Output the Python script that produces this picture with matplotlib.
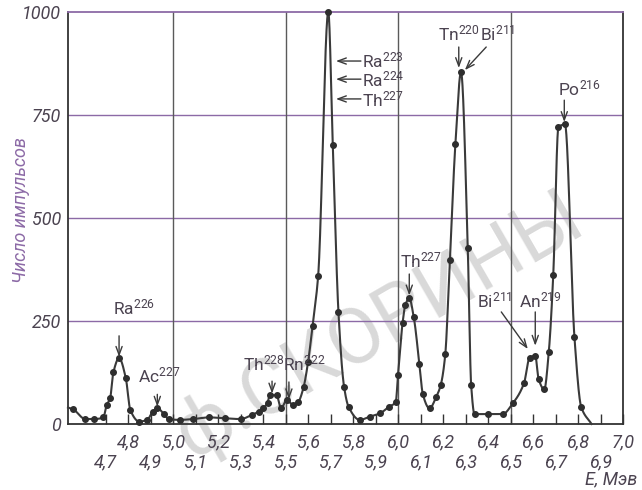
import numpy as np
import matplotlib
matplotlib.use("Agg")
import matplotlib.pyplot as plt

# ---------------- data ----------------
energy = [4.555, 4.61, 4.65, 4.69, 4.705, 4.72, 4.735, 4.76, 4.79, 4.81, 4.85, 4.885,
          4.91, 4.93, 4.96, 4.98, 5.03, 5.09, 5.16, 5.23, 5.30, 5.35, 5.38, 5.40, 5.42,
          5.43, 5.46, 5.48, 5.505, 5.535, 5.557, 5.58, 5.60, 5.62, 5.645, 5.69, 5.71,
          5.735, 5.76, 5.78, 5.83, 5.875, 5.92, 5.96, 5.99, 6.00, 6.02, 6.033, 6.05,
          6.07, 6.095, 6.11, 6.14, 6.17, 6.19, 6.21, 6.23, 6.255, 6.28, 6.31, 6.325,
          6.34, 6.40, 6.465, 6.51, 6.56, 6.585, 6.61, 6.625, 6.65, 6.67, 6.69, 6.713,
          6.742, 6.784, 6.814]
counts = [36, 12, 12, 16, 46, 62, 126, 160, 111, 34, 6, 10,
          30, 38, 24, 12, 10, 12, 16, 14, 12, 22, 30, 38, 52,
          70, 70, 38, 58, 46, 54, 89, 150, 238, 360, 1000, 678,
          273, 91, 42, 10, 18, 26, 42, 54, 120, 244, 290, 305,
          259, 145, 73, 38, 66, 95, 169, 397, 680, 854, 427, 95,
          24, 24, 24, 50, 99, 161, 165, 109, 84, 174, 362, 721,
          727, 212, 42]
# ends of the drawn curve (no measured dot there)
curve_head_x, curve_head_y = [4.533], [40]
curve_tail_x, curve_tail_y = [6.86], [0]

y_ticks = [0, 250, 500, 750, 1000]
y_tick_labels = ["0", "250", "500", "750", "1000"]
x_major = [4.8, 5.0, 5.2, 5.4, 5.6, 5.8, 6.0, 6.2, 6.4, 6.6, 6.8, 7.0]
x_minor = [4.7, 4.9, 5.1, 5.3, 5.5, 5.7, 5.9, 6.1, 6.3, 6.5, 6.7, 6.9]
v_grid = [5.0, 5.5, 6.0, 6.5]
h_grid = [250, 500, 750]

# label: (element, mass, text x, text baseline y, arrow tail, arrow tip)
peak_labels = [
    ("Ra", "226", 4.733, 267, (4.76, 214), (4.76, 163)),
    ("Ac", "227", 4.845, 100, (4.93, 72), (4.93, 42)),
    ("Th", "228", 5.31, 129, (5.44, 104), (5.44, 74)),
    ("Rn", "222", 5.49, 129, (5.515, 102), (5.515, 60)),
    ("Th", "227", 6.009, 381, (6.05, 364), (6.05, 312)),
    ("Tn", "220", 6.176, 932, (6.27, 915), (6.27, 864)),
    ("Bi", "211", 6.365, 932, (6.392, 915), (6.297, 859)),
    ("Bi", "211", 6.351, 284, (6.459, 272), (6.577, 182)),
    ("An", "219", 6.538, 284, (6.61, 272), (6.61, 190)),
    ("Po", "216", 6.712, 798, (6.739, 786), (6.739, 733)),
]
side_labels = [  # text to the right of an arrow pointing left at the Ra223 peak
    ("Ra", "223", 866, 881),
    ("Ra", "224", 820, 837),
    ("Th", "227", 772, 789),
]
side_text_x, side_arrow_tip_x = 5.84, 5.724

# ---------------- fonts ----------------
plt.rcParams["font.family"] = ["Roboto", "DejaVu Sans"]
plt.rcParams["mathtext.fontset"] = "custom"
plt.rcParams["mathtext.rm"] = "Roboto"
plt.rcParams["mathtext.it"] = "Roboto:italic"
plt.rcParams["mathtext.default"] = "rm"

ink = "#3a3a3a"
txt = "#4b4350"
purple = "#8c6aa6"


def pchip(x, y, xn):
    x = np.asarray(x, float)
    y = np.asarray(y, float)
    h = np.diff(x)
    d = np.diff(y) / h
    m = np.zeros_like(y)
    for k in range(1, len(x) - 1):
        if d[k - 1] * d[k] > 0:
            w1 = 2 * h[k] + h[k - 1]
            w2 = h[k] + 2 * h[k - 1]
            m[k] = (w1 + w2) / (w1 / d[k - 1] + w2 / d[k])
    m[0], m[-1] = d[0], d[-1]
    idx = np.clip(np.searchsorted(x, xn) - 1, 0, len(x) - 2)
    t = (xn - x[idx]) / h[idx]
    h00 = 2 * t**3 - 3 * t**2 + 1
    h10 = t**3 - 2 * t**2 + t
    h01 = -2 * t**3 + 3 * t**2
    h11 = t**3 - t**2
    return h00 * y[idx] + h10 * h[idx] * m[idx] + h01 * y[idx + 1] + h11 * h[idx] * m[idx + 1]


fig = plt.figure(figsize=(6.42, 4.90), dpi=100)
fig.patch.set_facecolor("white")
ax = fig.add_axes([68 / 642, 1 - 424 / 490, (623 - 68) / 642, (424 - 12) / 490])
ax.patch.set_alpha(0)

ax.set_xlim(4.533, 7.0)
ax.set_ylim(0, 1000)

# watermark of the scanned page (behind everything)
fig.text(0.59, 0.335, "ф.СКОРИНЫ", rotation=30, fontsize=56, color="#d9d9d9",
         ha="center", va="center", zorder=-5)

# grid
for g in h_grid:
    ax.axhline(g, color=purple, lw=1.0, zorder=1)
for g in v_grid:
    ax.axvline(g, color="#5a5a5a", lw=1.0, zorder=1)

# curve
cx = np.array(curve_head_x + energy + curve_tail_x)
cy = np.array(curve_head_y + counts + curve_tail_y)
xn = np.linspace(cx[0], cx[-1], 3000)
yn = np.clip(pchip(cx, cy, xn), 0, 1000)
ax.plot(xn, yn, color=ink, lw=1.5, zorder=3, clip_on=False)
ax.plot(energy, counts, "o", color="#2e2e2e", ms=4, zorder=4, clip_on=False)

# spines & ticks
for s in ax.spines.values():
    s.set_color("#333333")
    s.set_linewidth(1.3)
ax.spines["top"].set_color(purple)

ax.set_yticks(y_ticks, y_tick_labels)
ax.tick_params(axis="y", length=0, pad=5, labelsize=13, labelcolor=txt)
for lab in ax.get_yticklabels():
    lab.set_style("italic")

ax.set_xticks(x_major, [f"{v:.1f}".replace(".", ",") for v in x_major])
ax.set_xticks(x_minor, [f"{v:.1f}".replace(".", ",") for v in x_minor], minor=True)
ax.tick_params(axis="x", which="both", direction="in", length=7, width=1,
               color="#333333", labelsize=13, labelcolor=txt)
ax.tick_params(axis="x", which="major", pad=7)
ax.tick_params(axis="x", which="minor", pad=21)
for lab in ax.get_xticklabels(which="both"):
    lab.set_style("italic")

ax.set_ylabel("Число импульсов", fontsize=13, color=purple, style="italic")
ax.yaxis.set_label_coords(-0.068, 0.52)
fig.text(611 / 642, 1 - 479 / 490, "E, Мэв", fontsize=13, color=txt,
         style="italic", ha="center", va="center")

arrow_kw = dict(arrowstyle="->,head_length=0.6,head_width=0.22", color=ink, lw=1.0,
                shrinkA=0, shrinkB=0)

for el, mass, tx, ty, tail, tip in peak_labels:
    ax.text(tx, ty, el + r"$^{" + mass + "}$", fontsize=12.5, color=txt,
            ha="left", va="baseline", zorder=5)
    ax.annotate("", xy=tip, xytext=tail, arrowprops=arrow_kw, zorder=5)

for el, mass, ty, ay in side_labels:
    ax.text(side_text_x, ty, el + r"$^{" + mass + "}$", fontsize=12.5, color=txt,
            ha="left", va="baseline", zorder=5)
    ax.annotate("", xy=(side_arrow_tip_x, ay), xytext=(side_text_x - 0.005, ay),
                arrowprops=arrow_kw, zorder=5)

fig.savefig("out.png", dpi=100, facecolor="white")
